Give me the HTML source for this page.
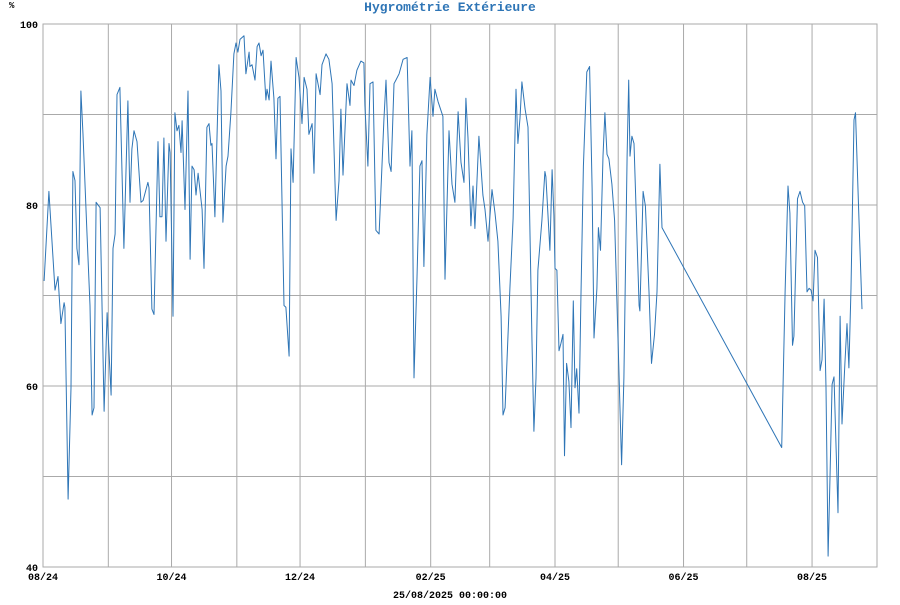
<!DOCTYPE html>
<html><head><meta charset="utf-8"><style>
html,body{margin:0;padding:0;background:#fff;}
svg text{font-family:"Liberation Mono",monospace;font-weight:bold;}
</style></head><body>
<svg id="chart" width="900" height="600" xmlns="http://www.w3.org/2000/svg">
<rect width="900" height="600" fill="#fff"/>
<text x="450" y="11" text-anchor="middle" font-size="13" fill="#2e75b6">Hygrométrie Extérieure</text>
<text x="9" y="8" font-size="9" fill="#000">%</text>
<text x="450" y="598" text-anchor="middle" font-size="10" fill="#000">25/08/2025 00:00:00</text>
<g id="grid"></g><g id="labels"></g><g id="series"></g>
</svg>
<script>
const yTicks=[40,50,60,70,80,90,100];
const yTickLabels=["40","","60","","80","","100"];
const monthDays=[0,31,61,92,122,153,184,212,243,273,304,334,365];
const monthLabels=["08/24","","10/24","","12/24","","02/25","","04/25","","06/25","","08/25"];
const days=[0.5,2.8,5.7,7.1,8.5,10.0,10.4,11.9,13.3,14.2,15.2,16.1,17.1,18.0,19.0,20.9,22.3,23.3,24.2,25.2,27.1,29.0,30.4,32.3,33.2,34.2,35.1,36.5,38.4,40.3,41.3,42.2,43.2,44.6,46.5,47.5,49.8,50.3,51.7,52.7,54.6,55.5,56.5,57.4,58.4,59.8,60.3,61.7,62.6,63.6,64.5,65.5,66.0,67.4,68.8,69.8,70.7,71.7,72.6,73.6,75.5,76.4,77.8,78.8,79.7,80.2,81.6,83.5,84.5,85.4,86.9,87.8,89.2,90.6,91.6,92.5,93.5,95.4,96.3,97.8,98.2,99.2,100.6,101.6,102.5,103.5,104.4,105.8,106.3,107.3,108.2,109.6,110.6,111.5,112.5,114.4,115.3,116.8,117.7,118.7,120.1,121.5,122.9,123.9,125.3,126.2,127.7,128.6,129.6,131.5,132.4,134.3,135.7,137.2,139.1,140.5,141.4,142.4,144.3,145.7,146.2,147.6,149.0,150.9,152.3,152.8,154.2,155.2,156.6,158.0,159.5,161.8,162.8,164.2,165.2,166.6,167.5,169.0,170.9,172.8,174.2,175.1,176.1,177.5,178.9,179.9,180.8,182.2,183.7,185.1,186.0,187.5,189.8,190.8,192.7,194.1,195.5,197.0,198.4,199.8,200.7,201.7,203.1,204.1,205.0,206.9,208.8,209.8,211.2,213.1,214.5,215.9,217.4,218.3,219.3,221.6,223.1,224.5,225.4,226.4,227.3,228.8,230.2,232.1,233.0,234.0,234.9,236.8,238.2,238.7,240.6,241.6,242.5,243.0,243.9,244.9,245.8,246.8,247.5,248.5,249.6,250.6,251.7,252.5,253.3,254.4,255.3,256.5,258.1,259.4,260.6,261.5,262.9,263.6,264.6,265.8,266.7,267.7,268.6,270.0,271.3,273.2,274.6,275.7,277.2,278.0,278.6,279.5,280.5,282.9,283.3,284.8,285.9,287.6,288.8,290.2,291.4,292.8,293.8,350.6,352.2,353.6,354.5,355.7,356.4,358.1,359.3,360.5,361.5,362.6,363.6,364.5,365.5,366.4,367.6,368.8,369.7,370.7,371.6,372.6,373.5,374.5,375.4,376.4,377.3,378.3,379.2,380.6,381.6,382.5,383.5,384.9,385.6,387.3,388.7];
const humidity=[71.6,81.5,70.6,72.1,66.9,69.2,68.7,47.5,59.8,83.7,82.7,75.2,73.4,92.6,87.8,76.8,68.9,56.8,57.6,80.3,79.7,57.2,68.1,59.0,75.2,76.8,92.2,93.0,75.2,91.5,80.3,86.2,88.2,87.0,80.3,80.5,82.5,81.9,68.5,67.9,87.0,78.7,78.7,87.4,76.0,86.8,85.8,67.7,90.2,88.2,88.8,85.8,89.3,79.5,92.6,74.0,84.3,83.9,81.1,83.5,79.5,73.0,88.6,89.0,86.6,86.8,78.7,95.5,92.6,78.1,84.3,85.4,90.2,96.7,97.9,96.9,98.3,98.7,94.5,96.9,95.3,95.5,93.8,97.5,97.9,96.5,97.1,91.6,92.8,91.6,95.9,91.8,85.1,91.8,92.0,68.9,68.7,63.3,86.2,82.5,96.3,94.1,89.0,94.1,92.8,87.8,89.0,83.5,94.5,92.2,95.5,96.7,96.1,93.4,78.3,82.7,90.6,83.3,93.4,91.0,93.8,93.2,94.9,95.9,95.7,91.0,84.3,93.4,93.6,77.2,76.8,89.4,93.8,84.7,83.7,93.4,93.8,94.5,96.1,96.3,84.3,88.2,60.9,72.0,84.3,84.9,73.2,87.8,94.1,89.8,92.8,91.4,89.8,71.8,88.2,82.3,80.3,90.3,84.7,82.5,91.8,87.4,77.7,82.1,77.4,87.6,81.1,79.5,76.0,81.7,79.1,76.0,67.7,56.8,57.6,70.8,78.5,92.8,86.8,89.6,93.6,90.6,88.6,64.9,55.0,60.9,72.8,78.3,83.7,83.1,75.0,83.9,78.9,73.0,72.8,63.9,64.7,65.7,52.3,62.5,60.5,55.4,69.4,59.8,61.9,57.0,69.6,84.3,94.7,95.3,81.9,65.3,70.8,77.5,75.0,85.4,90.2,85.6,85.1,82.3,78.3,62.9,51.3,60.9,85.4,93.8,85.4,87.6,86.8,68.9,68.3,81.5,79.9,70.4,62.5,65.7,70.4,84.5,77.5,53.2,70.4,82.1,79.1,64.5,65.5,80.7,81.5,80.3,79.9,70.4,70.8,70.6,69.4,75.0,74.2,61.7,62.9,69.6,59.8,41.2,49.9,60.2,61.0,53.1,46.0,67.7,55.8,62.5,66.9,62.0,70.8,89.4,90.2,78.3,68.5];
const X0=43,X1=877,Y0=567,Y1=24,DMAX=(877-43)/2.107;
const xs=d=>X0+d*(X1-X0)/DMAX;
const ys=v=>Y0-(v-40)*(Y0-Y1)/60;
const NS="http://www.w3.org/2000/svg";
const grid=document.getElementById('grid'),labels=document.getElementById('labels'),series=document.getElementById('series');
function mk(tag,attrs,parent){const e=document.createElementNS(NS,tag);for(const k in attrs)e.setAttribute(k,attrs[k]);parent.appendChild(e);return e;}
yTicks.forEach((v,i)=>{
 const l=mk('line',{x1:X0,x2:X1,y1:ys(v),y2:ys(v),stroke:'#aaa','stroke-width':1},grid);
 
 
 if(yTickLabels[i]){const t=mk('text',{x:38,y:ys(v)+4,'text-anchor':'end','font-size':10,fill:'#000'},labels);t.textContent=yTickLabels[i];
 
 }
});
monthDays.forEach((d,i)=>{
 const l=mk('line',{x1:xs(d),x2:xs(d),y1:Y1,y2:Y0,stroke:'#aaa','stroke-width':1},grid);
 
 
 if(monthLabels[i]){const t=mk('text',{x:xs(d),y:580,'text-anchor':'middle','font-size':10,fill:'#000'},labels);t.textContent=monthLabels[i];
 
 }
});
const fr=mk('rect',{x:X0,y:Y1,width:X1-X0,height:Y0-Y1,fill:'none',stroke:'#aaa','stroke-width':1},grid);


const pts=days.map((d,i)=>xs(d).toFixed(1)+','+ys(humidity[i]).toFixed(1)).join(' ');
const pl=mk('polyline',{points:pts,fill:'none',stroke:'#2e75b6','stroke-width':1,'stroke-linejoin':'round'},series);


</script>
</body></html>
